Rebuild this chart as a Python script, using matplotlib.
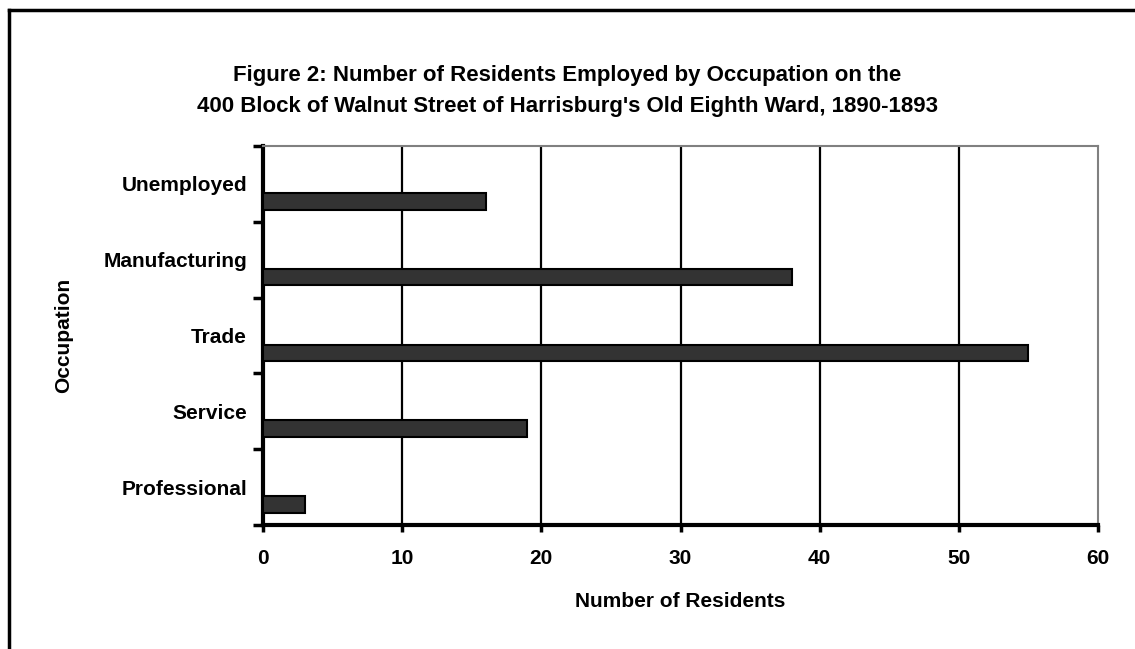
""" Horizontal bar chart: residents employed by occupation, 400 block of
    Walnut Street, Harrisburg's Old Eighth Ward, 1890-1893.
"""

import matplotlib.pyplot as plt
from matplotlib.lines import Line2D


occupations = ['Professional', 'Service', 'Trade', 'Manufacturing', 'Unemployed']
residents = [3, 19, 55, 38, 16]
x_ticks = [0, 10, 20, 30, 40, 50, 60]

TITLE = ("Figure 2: Number of Residents Employed by Occupation on the\n"
         "400 Block of Walnut Street of Harrisburg's Old Eighth Ward, 1890-1893")


def main():
    plt.rcParams['font.family'] = ['Liberation Sans', 'DejaVu Sans']
    plt.rcParams['font.weight'] = 'bold'

    fig = plt.figure(figsize=(11.35, 6.49), dpi=100)
    ax = fig.add_axes([263 / 1135, 1 - 525 / 649, 835 / 1135, 379 / 649])

    ypos = list(range(len(occupations)))
    bar_y = [y - 0.23 for y in ypos]
    ax.barh(bar_y, residents, height=0.22, color='#333333',
            edgecolor='black', linewidth=1.5, zorder=3)

    ax.set_xlim(0, 60)
    ax.set_ylim(-0.5, len(occupations) - 0.5)

    ax.set_xticks(x_ticks)
    ax.set_xticklabels([str(t) for t in x_ticks], fontsize=15, fontweight='bold')
    for t in x_ticks[1:-1]:
        ax.axvline(t, color='black', linewidth=1.6, zorder=1)

    # category labels at band centres, tick marks on band borders
    ax.set_yticks([y - 0.5 for y in range(len(occupations) + 1)])
    ax.set_yticklabels([])
    ax.set_yticks(ypos, minor=True)
    ax.set_yticklabels(occupations, minor=True, fontsize=15, fontweight='bold')
    ax.tick_params(axis='y', which='minor', length=0, pad=11.5)
    ax.tick_params(axis='y', which='major', length=7, width=2.5, direction='out')
    ax.tick_params(axis='x', length=5, width=2.5, direction='out', pad=12.5)

    ax.spines['left'].set_linewidth(3)
    ax.spines['bottom'].set_linewidth(3)
    ax.spines['top'].set_color('#808080')
    ax.spines['right'].set_color('#808080')
    ax.spines['top'].set_linewidth(1.5)
    ax.spines['right'].set_linewidth(1.5)

    ax.set_xlabel('Number of Residents', fontsize=15, fontweight='bold', labelpad=17)
    ax.set_ylabel('Occupation', fontsize=15, fontweight='bold')
    ax.yaxis.set_label_coords(-(263 - 73) / 835, 0.5)

    fig.text(0.5, 1 - 91 / 649, TITLE, ha='center', va='center',
             fontsize=16, fontweight='bold', linespacing=1.6)

    # outer chart border (left and top edges visible)
    fig.add_artist(Line2D([9 / 1135, 9 / 1135], [0, 1 - 10 / 649],
                          color='black', linewidth=2.5, transform=fig.transFigure))
    fig.add_artist(Line2D([9 / 1135, 1], [1 - 10 / 649, 1 - 10 / 649],
                          color='black', linewidth=2.5, transform=fig.transFigure))

    fig.savefig('out.png', dpi=100)


if __name__ == '__main__':
    main()
